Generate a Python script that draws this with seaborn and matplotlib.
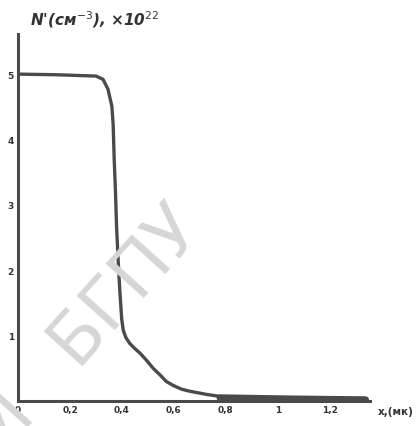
import matplotlib
matplotlib.use("Agg")
import matplotlib.pyplot as plt
import seaborn as sns
import pandas as pd

# concentration profile (x in mk, N' in 1e22 cm^-3)
depth = [0.0, 0.15, 0.30, 0.327, 0.346, 0.361, 0.366, 0.370, 0.375, 0.379,
         0.385, 0.392, 0.399, 0.405, 0.415, 0.43, 0.45, 0.47, 0.495, 0.52,
         0.546, 0.57, 0.596, 0.63, 0.66, 0.70, 0.727, 0.777]
conc = [5.0, 4.99, 4.97, 4.92, 4.77, 4.51, 4.23, 3.70, 3.19, 2.68,
        2.17, 1.66, 1.25, 1.08, 0.97, 0.88, 0.80, 0.73, 0.62, 0.50,
        0.40, 0.30, 0.24, 0.18, 0.15, 0.12, 0.10, 0.07]
tail_depth = [0.777, 1.0, 1.2, 1.337]
tail_conc = [0.05, 0.035, 0.025, 0.02]

xticks = [0, 0.2, 0.4, 0.6, 0.8, 1.0, 1.2]
xtick_labels = ["0", "0,2", "0,4", "0,6", "0,8", "1", "1,2"]
yticks = [1, 2, 3, 4, 5]
ytick_labels = ["1", "2", "3", "4", "5"]

df = pd.DataFrame({"x": depth, "N": conc})
tail = pd.DataFrame({"x": tail_depth, "N": tail_conc})

sns.set_style("white")
plt.rcParams['font.family'] = ['DejaVu Sans']

fig = plt.figure(figsize=(4.19, 4.27), dpi=100)
ax = fig.add_axes([0.043, 0.0585, 0.84, 0.859])

ink = "#4a4a4a"

# library watermark
fig.text(0.298, 0.337, "БГПУ", fontsize=51, color="#d6d6d6", rotation=48,
         rotation_mode="anchor", ha="center", va="center", zorder=0)
fig.text(0.048, 0.066, "РИ", fontsize=51, color="#d6d6d6", rotation=48,
         rotation_mode="anchor", ha="right", va="center", zorder=0)

line_kw = dict(estimator=None, sort=False, solid_joinstyle="round",
               solid_capstyle="round")
sns.lineplot(data=df, x="x", y="N", ax=ax, color=ink, linewidth=2.4, **line_kw)
sns.lineplot(data=tail, x="x", y="N", ax=ax, color=ink, linewidth=5, **line_kw)

ax.set_xlim(0, 1.354)
ax.set_ylim(0, 5.61)
ax.set_facecolor("none")
fig.patch.set_facecolor("white")

for side in ["top", "right"]:
    ax.spines[side].set_visible(False)
for side in ["left", "bottom"]:
    ax.spines[side].set_color(ink)
    ax.spines[side].set_linewidth(2.2)

ax.set_xticks(xticks)
ax.set_xticklabels(xtick_labels, fontsize=6.5, fontweight="bold", color="#333333")
ax.set_yticks(yticks)
ax.set_yticklabels(ytick_labels, fontsize=6.5, fontweight="bold", color="#333333")
ax.tick_params(direction="in", length=5, width=1.2, color=ink, pad=3)
ax.set_xlabel("")
ax.set_ylabel("")

fig.text(0.072, 0.955, "N'(см$^{-3}$), ×10$^{22}$", fontsize=11, fontstyle="italic",
         fontweight="bold", color="#333333", ha="left", va="center")
fig.text(0.945, 0.035, "x,(мк)", fontsize=7.5, fontweight="bold",
         color="#333333", ha="center", va="center")

fig.savefig("out.png", dpi=100)
